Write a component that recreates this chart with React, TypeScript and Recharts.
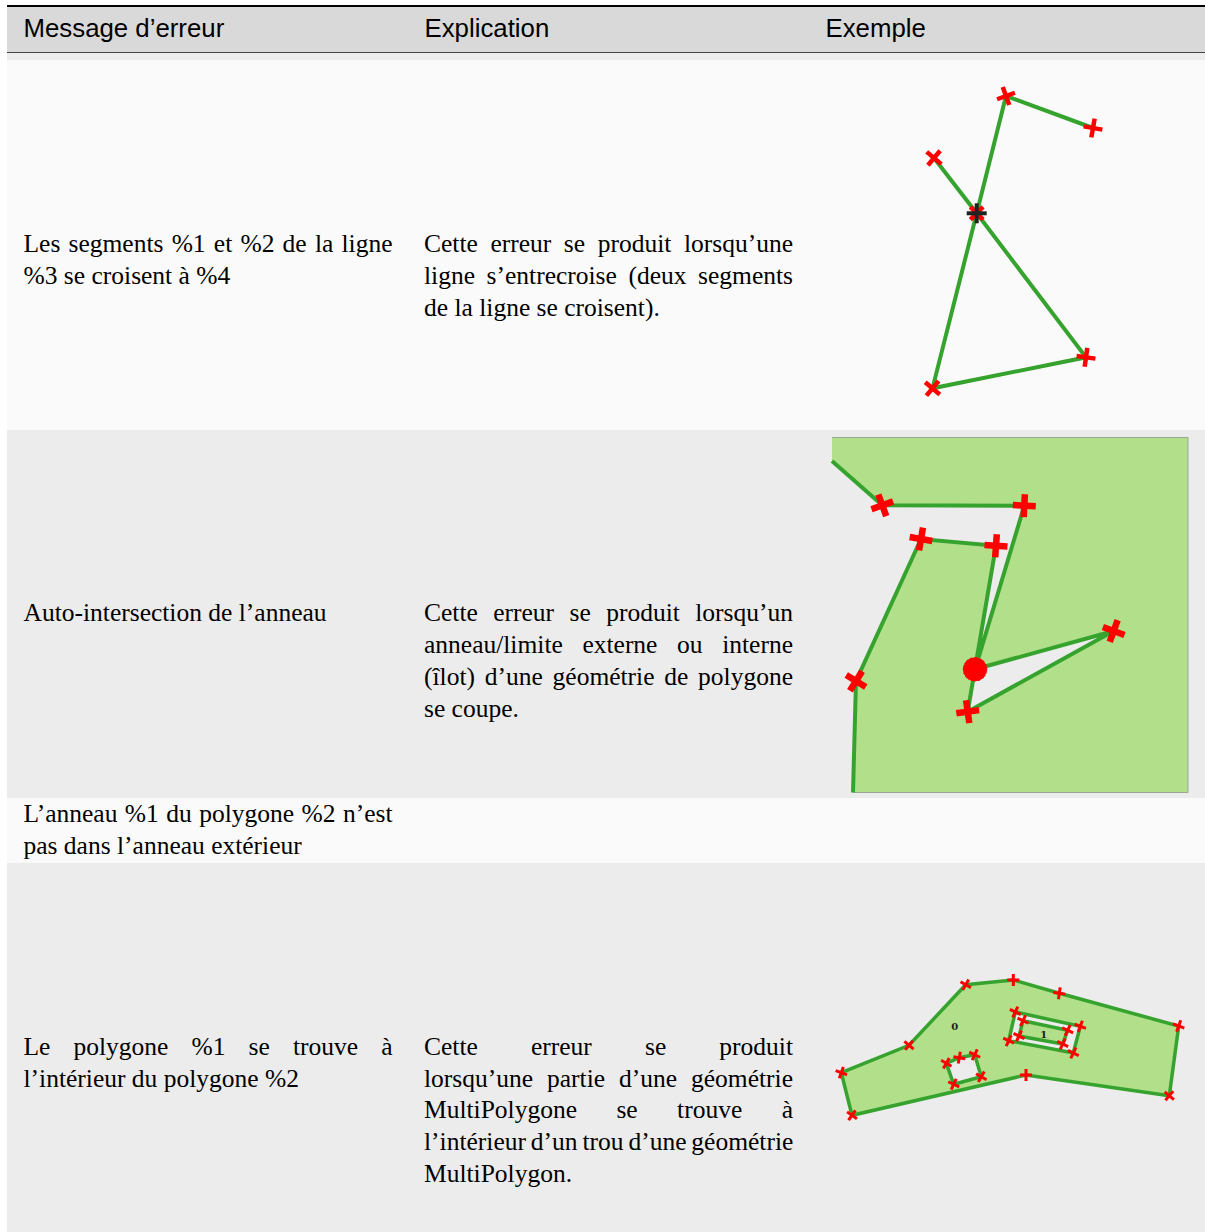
import { ScatterChart, Scatter, XAxis, YAxis } from 'recharts'

// all positions below are read in pixels off the reference page
const headers = ['Message d’erreur', 'Explication', 'Exemple']

const messageLines = [
  [{ text: 'Les segments %1 et %2 de la ligne', justify: true }, { text: '%3 se croisent à %4', justify: false }],
  [{ text: 'Auto-intersection de l’anneau', justify: false }],
  [{ text: 'L’anneau %1 du polygone %2 n’est', justify: true }, { text: 'pas dans l’anneau extérieur', justify: false }],
  [{ text: 'Le polygone %1 se trouve à', justify: true }, { text: 'l’intérieur du polygone %2', justify: false }],
]

const explainLines = [
  [
    { text: 'Cette erreur se produit lorsqu’une', justify: true },
    { text: 'ligne s’entrecroise (deux segments', justify: true },
    { text: 'de la ligne se croisent).', justify: false },
  ],
  [
    { text: 'Cette erreur se produit lorsqu’un', justify: true },
    { text: 'anneau/limite externe ou interne', justify: true },
    { text: '(îlot) d’une géométrie de polygone', justify: true },
    { text: 'se coupe.', justify: false },
  ],
  [],
  [
    { text: 'Cette erreur se produit', justify: true },
    { text: 'lorsqu’une partie d’une géométrie', justify: true },
    { text: 'MultiPolygone se trouve à', justify: true },
    { text: 'l’intérieur d’un trou d’une géométrie', justify: true },
    { text: 'MultiPolygon.', justify: false },
  ],
]

const rowTops = [60, 430, 798, 863]
const rowHeights = [370, 368, 65, 369]
const rowColors = ['#fafafa', '#ececec', '#fafafa', '#ececec']
const messageTops = [228, 597, 798, 1030.7]
const explainTops = [228, 597, 0, 1030.7]

// example 1: self crossing line
const lineX = [1093, 1006, 976.7, 932.5, 1086, 976.7, 934]
const lineY = [128, 96, 213.3, 388.3, 357.3, 213.3, 158]
const lineVertexX = [1093, 1006, 932.5, 1086, 934]
const lineVertexY = [128, 96, 388.3, 357.3, 158]
const lineVertexAngle = [10, -20, 40, 8, 40]
const crossingRedAngle = [45]

// example 2: ring touching itself
const ringFillX = [832, 1188, 1188, 853, 856, 921, 996, 967.7, 1113.7, 975, 1024.3, 882.3, 832, 832]
const ringFillY = [437.5, 437.5, 792.5, 792.5, 681, 539, 545.7, 711.7, 631, 669.3, 505.7, 505.3, 461, 437.5]
const ringFrameX = [832, 1188, 1188, 853]
const ringFrameY = [437.5, 437.5, 792.5, 792.5]
const ringEdgeX = [832, 882.3, 1024.3, 975, 1113.7, 967.7, 996, 921, 856, 853]
const ringEdgeY = [461, 505.3, 505.7, 669.3, 631, 711.7, 545.7, 539, 681, 792.5]
const ringVertexX = [882.3, 1024.3, 1113.7, 967.7, 996, 921, 856]
const ringVertexY = [505.3, 505.7, 631, 711.7, 545.7, 539, 681]
const ringVertexAngle = [-20, 3, 20, -8, 4, 10, 32]
// the touching vertex is drawn several times, each rotated, which makes the blob
const blobAngles = [0, 25, 50, 70]

// example 3: multipolygon with hole and island
const outerX = [841.3, 909, 965.7, 1013.3, 1059.3, 1178.7, 1169.3, 1026, 852, 841.3]
const outerY = [1072.7, 1045.3, 984.7, 980, 993.3, 1026, 1095.7, 1075, 1115.3, 1072.7]
const outerAngle = [20, 40, 30, 0, 8, 20, 40, 0, 35]
const squareHoleX = [946.3, 959.3, 974.7, 981.3, 953.7, 946.3]
const squareHoleY = [1063.3, 1057.7, 1054.7, 1076.7, 1084.3, 1063.3]
const squareHoleAngle = [30, 10, 25, 30, 25]
const rectHoleX = [1015.3, 1080.3, 1073.3, 1008.7, 1015.3]
const rectHoleY = [1012, 1026.3, 1053, 1040.7, 1012]
const rectHoleAngle = [25, 20, 25, 25]
const islandX = [1023, 1067.7, 1062.7, 1019, 1023]
const islandY = [1020.7, 1030.3, 1044, 1036, 1020.7]
const islandAngle = [25, 25, 25, 25]
const partLabels = ['0', '1']
const partLabelX = [954.7, 1043.7]
const partLabelY = [1026.7, 1034]

const toPoints = (xs: number[], ys: number[], angles?: number[]) =>
  xs.map((x, i) => ({ x, y: ys[i], angle: angles ? angles[i] : 0 }))

const GREEN = '#36a32f'
const RED = '#ff0000'
const FILL = '#b2df8a'

function Cross({ cx, cy, angle, size, weight, color }: any) {
  const h = size / 2
  return (
    <g transform={`rotate(${angle} ${cx} ${cy})`} stroke={color} strokeWidth={weight}>
      <line x1={cx - h} y1={cy} x2={cx + h} y2={cy} />
      <line x1={cx} y1={cy - h} x2={cx} y2={cy + h} />
    </g>
  )
}

const marker = (size: number, weight: number, color = RED) => (props: any) =>
  <Cross cx={props.cx} cy={props.cy} angle={props.payload.angle} size={size} weight={weight} color={color} />

const noMark = () => <g />

function Panel({ left, top, width, height, children }: any) {
  return (
    <div style={{ position: 'absolute', left, top }}>
      <ScatterChart width={width} height={height} margin={{ top: 0, right: 0, bottom: 0, left: 0 }}>
        <XAxis type="number" dataKey="x" hide domain={[left, left + width]} />
        <YAxis type="number" dataKey="y" hide reversed domain={[top, top + height]} />
        {children}
      </ScatterChart>
    </div>
  )
}

function TextLines({ lines, left, top }: any) {
  return lines.map((l: any, i: number) => (
    <div
      key={i}
      style={{
        position: 'absolute',
        left,
        top: top + i * 31.85,
        width: 369,
        height: 32,
        lineHeight: '32px',
        fontFamily: '"Liberation Serif"',
        fontSize: 25.5,
        color: '#000',
        whiteSpace: 'nowrap',
        wordSpacing: l.justify ? -1.5 : 0,
        textAlign: l.justify ? 'justify' : 'left',
        textAlignLast: l.justify ? 'justify' : 'left',
      }}
    >
      {l.text}
    </div>
  ))
}

export default function App() {
  return (
    <div style={{ position: 'absolute', left: 0, top: 0, width: 1205, height: 1232, background: '#fff', overflow: 'hidden' }}>
      <div style={{ position: 'absolute', left: 7, top: 5, width: 1198, height: 2, background: '#000' }} />
      <div style={{ position: 'absolute', left: 7, top: 7, width: 1198, height: 45, background: '#d9d9d9' }} />
      <div style={{ position: 'absolute', left: 7, top: 52, width: 1198, height: 1, background: '#444' }} />
      <div style={{ position: 'absolute', left: 7, top: 53, width: 1198, height: 7, background: '#ececec' }} />
      {headers.map((h, i) => (
        <div
          key={h}
          style={{
            position: 'absolute',
            left: [23.5, 424.5, 825.5][i],
            top: 12,
            lineHeight: '32px',
            fontFamily: '"Liberation Sans"',
            fontSize: 25.8,
            color: '#000',
          }}
        >
          {h}
        </div>
      ))}

      {rowTops.map((t, i) => (
        <div key={t} style={{ position: 'absolute', left: 7, top: t, width: 1198, height: rowHeights[i], background: rowColors[i] }} />
      ))}
      {messageLines.map((lines, i) => (
        <TextLines key={i} lines={lines} left={23.5} top={messageTops[i]} />
      ))}
      {explainLines.map((lines, i) => (
        <TextLines key={i} lines={lines} left={424} top={explainTops[i]} />
      ))}

      <Panel left={826} top={60} width={379} height={370}>
        <Scatter
          data={toPoints(lineX, lineY)}
          isAnimationActive={false}
          shape={noMark}
          line={{ stroke: GREEN, strokeWidth: 4 }}
        />
        <Scatter data={toPoints(lineVertexX, lineVertexY, lineVertexAngle)} isAnimationActive={false} shape={marker(19, 4.5)} />
        <Scatter data={toPoints([lineX[2]], [lineY[2]], crossingRedAngle)} isAnimationActive={false} shape={marker(18, 4.5)} />
        <Scatter data={toPoints([lineX[2]], [lineY[2]])} isAnimationActive={false} shape={marker(20, 4, '#222222')} />
      </Panel>

      <Panel left={826} top={430} width={379} height={368}>
        <Scatter
          data={toPoints(ringFillX, ringFillY)}
          isAnimationActive={false}
          shape={noMark}
          line={{ stroke: 'none', fill: FILL }}
        />
        <Scatter
          data={toPoints(ringFrameX, ringFrameY)}
          isAnimationActive={false}
          shape={noMark}
          line={{ stroke: '#9aa692', strokeWidth: 1 }}
        />
        <Scatter
          data={toPoints(ringEdgeX, ringEdgeY)}
          isAnimationActive={false}
          shape={noMark}
          line={{ stroke: GREEN, strokeWidth: 4 }}
        />
        <Scatter data={toPoints(ringVertexX, ringVertexY, ringVertexAngle)} isAnimationActive={false} shape={marker(23, 6.5)} />
        <Scatter
          data={toPoints(blobAngles.map(() => ringEdgeX[3]), blobAngles.map(() => ringEdgeY[3]), blobAngles)}
          isAnimationActive={false}
          shape={marker(23, 9)}
        />
      </Panel>

      <Panel left={826} top={863} width={379} height={369}>
        <Scatter
          data={toPoints(outerX, outerY)}
          isAnimationActive={false}
          shape={noMark}
          line={{ stroke: GREEN, strokeWidth: 3.5, fill: FILL }}
        />
        <Scatter
          data={toPoints(squareHoleX, squareHoleY)}
          isAnimationActive={false}
          shape={noMark}
          line={{ stroke: GREEN, strokeWidth: 3.5, fill: '#ececec' }}
        />
        <Scatter
          data={toPoints(rectHoleX, rectHoleY)}
          isAnimationActive={false}
          shape={noMark}
          line={{ stroke: GREEN, strokeWidth: 3.5, fill: '#ececec' }}
        />
        <Scatter
          data={toPoints(islandX, islandY)}
          isAnimationActive={false}
          shape={noMark}
          line={{ stroke: GREEN, strokeWidth: 3.5, fill: FILL }}
        />
        <Scatter data={toPoints(outerX.slice(0, -1), outerY, outerAngle)} isAnimationActive={false} shape={marker(12, 3)} />
        <Scatter data={toPoints(squareHoleX.slice(0, -1), squareHoleY, squareHoleAngle)} isAnimationActive={false} shape={marker(12, 3)} />
        <Scatter data={toPoints(rectHoleX.slice(0, -1), rectHoleY, rectHoleAngle)} isAnimationActive={false} shape={marker(12, 3)} />
        <Scatter data={toPoints(islandX.slice(0, -1), islandY, islandAngle)} isAnimationActive={false} shape={marker(12, 3)} />
        <Scatter
          data={partLabelX.map((x, i) => ({ x, y: partLabelY[i], name: partLabels[i] }))}
          isAnimationActive={false}
          shape={(p: any) => (
            <text x={p.cx} y={p.cy + 3.5} textAnchor="middle" fontFamily='"DejaVu Serif"' fontWeight="bold" fontSize={10} fill="#222">
              {p.payload.name}
            </text>
          )}
        />
      </Panel>
    </div>
  )
}
